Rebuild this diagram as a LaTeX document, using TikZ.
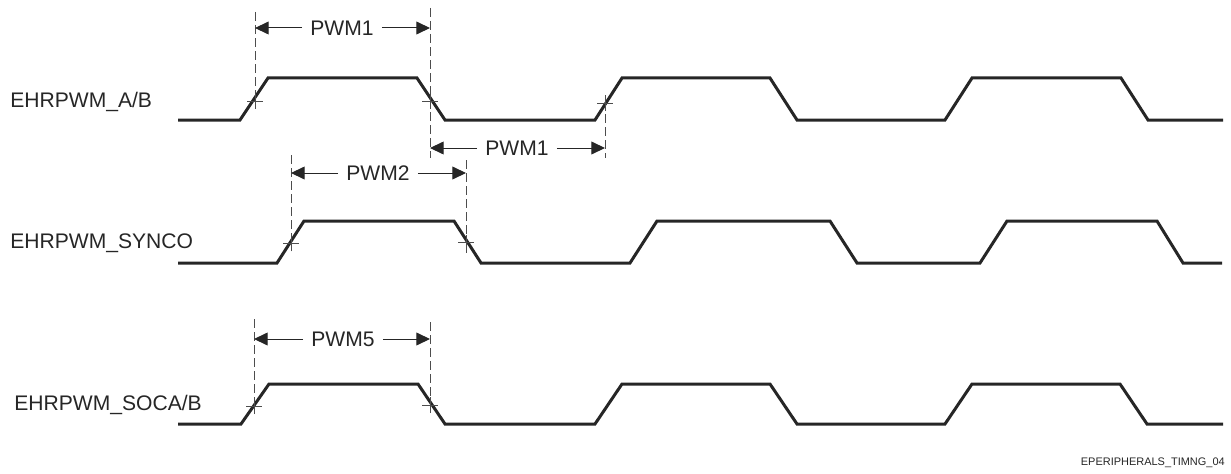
\documentclass[tikz,border=0pt]{standalone}
\usepackage{fontspec}
\setmainfont{Liberation Sans}
\usetikzlibrary{arrows.meta}
\definecolor{sigcol}{HTML}{262626}
\definecolor{guidecol}{HTML}{4D4D4D}
\tikzset{
  wave/.style={line width=0.075cm, color=sigcol, line join=miter},
  guide/.style={line width=0.025cm, color=guidecol, dash pattern=on 0.225cm off 0.1cm},
  tick/.style={line width=0.025cm, color=guidecol},
  dimline/.style={line width=0.025cm, color=sigcol, -{Triangle[length=0.34cm,width=0.32cm]}},
  signame/.style={anchor=base west, inner sep=0pt, font=\fontsize{15}{18}\selectfont, text=sigcol},
  dimtext/.style={inner sep=0.2cm, font=\fontsize{15}{18}\selectfont, text=sigcol},
}
% cross where a guide meets an edge
\newcommand{\edgemark}[1]{\draw[tick] (#1) +(-0.2,0) -- +(0.2,0) +(0,-0.2) -- +(0,0.2);}
\begin{document}
\begin{tikzpicture}
                \useasboundingbox (0,0) rectangle (30.775,11.825);
                
                % Signal names
                \node[signame] (nameA) at (0.25,9.15) {EHRPWM\_A/B};
                \node[signame] (nameS) at (0.25,5.625) {EHRPWM\_SYNCO};
                \node[signame] (nameC) at (0.35,1.575) {EHRPWM\_SOCA/B};
                
                % Drawing wave A/B
                \draw[wave] (4.45,8.825) -- (6.0,8.825) -- (6.7,9.875) -- (10.425,9.875) -- (11.125,8.825) -- (14.875,8.825) -- (15.55,9.875) -- (19.25,9.875) -- (19.925,8.825) -- (23.625,8.825) -- (24.3,9.875) -- (28.025,9.875) -- (28.7,8.825) -- (30.575,8.825);
                
                % Drawing wave SYNCO
                \draw[wave] (4.45,5.25) -- (6.925,5.25) -- (7.6,6.3) -- (11.35,6.3) -- (12.025,5.25) -- (15.75,5.25) -- (16.425,6.3) -- (20.75,6.3) -- (21.425,5.25) -- (24.5,5.25) -- (25.175,6.3) -- (28.925,6.3) -- (29.575,5.25) -- (30.55,5.25);
                
                % Drawing wave SOCA/B
                \draw[wave] (4.45,1.225) -- (6.025,1.225) -- (6.725,2.225) -- (10.45,2.225) -- (11.125,1.225) -- (14.875,1.225) -- (15.55,2.225) -- (19.25,2.225) -- (19.925,1.225) -- (23.625,1.225) -- (24.3,2.225) -- (28.0,2.225) -- (28.675,1.225) -- (30.575,1.225);
                
                % Guides on wave A/B
                \coordinate (gA1) at (6.375,11.525);
                \coordinate (gA2) at (10.75,11.625);
                \coordinate (gA3) at (15.125,9.3);
                \draw[guide] (gA1) -- (6.375,9.3);
                \draw[guide] (gA2) -- (10.75,7.875);
                \draw[guide] (gA3) -- (15.125,7.875);
                \edgemark{6.375,9.3}
                \edgemark{10.75,9.3}
                \edgemark{15.125,9.25}
                
                % Guides on wave SYNCO
                \coordinate (gS1) at (7.275,7.95);
                \coordinate (gS2) at (11.65,7.825);
                \draw[guide] (gS1) -- (7.275,5.74);
                \draw[guide] (gS2) -- (11.65,5.5);
                \edgemark{7.275,5.74}
                \edgemark{11.65,5.76}
                
                % Guides on wave SOCA/B
                \coordinate (gC1) at (6.35,3.85);
                \coordinate (gC2) at (10.75,3.775);
                \draw[guide] (gC1) -- (6.35,1.675);
                \draw[guide] (gC2) -- (10.75,1.5);
                \edgemark{6.35,1.675}
                \edgemark{10.75,1.7}
                
                % Drawing PWM1 (high time)
                \node[dimtext] (pwmHi) at (8.55,11.125) {PWM1};
                \draw[dimline] (pwmHi.west) -- (gA1 |- pwmHi.west);
                \draw[dimline] (pwmHi.east) -- (gA2 |- pwmHi.east);
                
                % Drawing PWM1 (low time)
                \node[dimtext] (pwmLo) at (12.925,8.125) {PWM1};
                \draw[dimline] (pwmLo.west) -- (gA2 |- pwmLo.west);
                \draw[dimline] (pwmLo.east) -- (gA3 |- pwmLo.east);
                
                % Drawing PWM2
                \node[dimtext] (pwmS) at (9.45,7.5) {PWM2};
                \draw[dimline] (pwmS.west) -- (gS1 |- pwmS.west);
                \draw[dimline] (pwmS.east) -- (gS2 |- pwmS.east);
                
                % Drawing PWM5
                \node[dimtext] (pwmC) at (8.575,3.35) {PWM5};
                \draw[dimline] (pwmC.west) -- (gC1 |- pwmC.west);
                \draw[dimline] (pwmC.east) -- (gC2 |- pwmC.east);
                
                % Figure tag
                \node[anchor=east, inner sep=0pt, font=\fontsize{7.8}{9}\selectfont, text=sigcol] (figtag) at (30.625,0.25) {EPERIPHERALS\_TIMNG\_04};
\end{tikzpicture}
\end{document}
